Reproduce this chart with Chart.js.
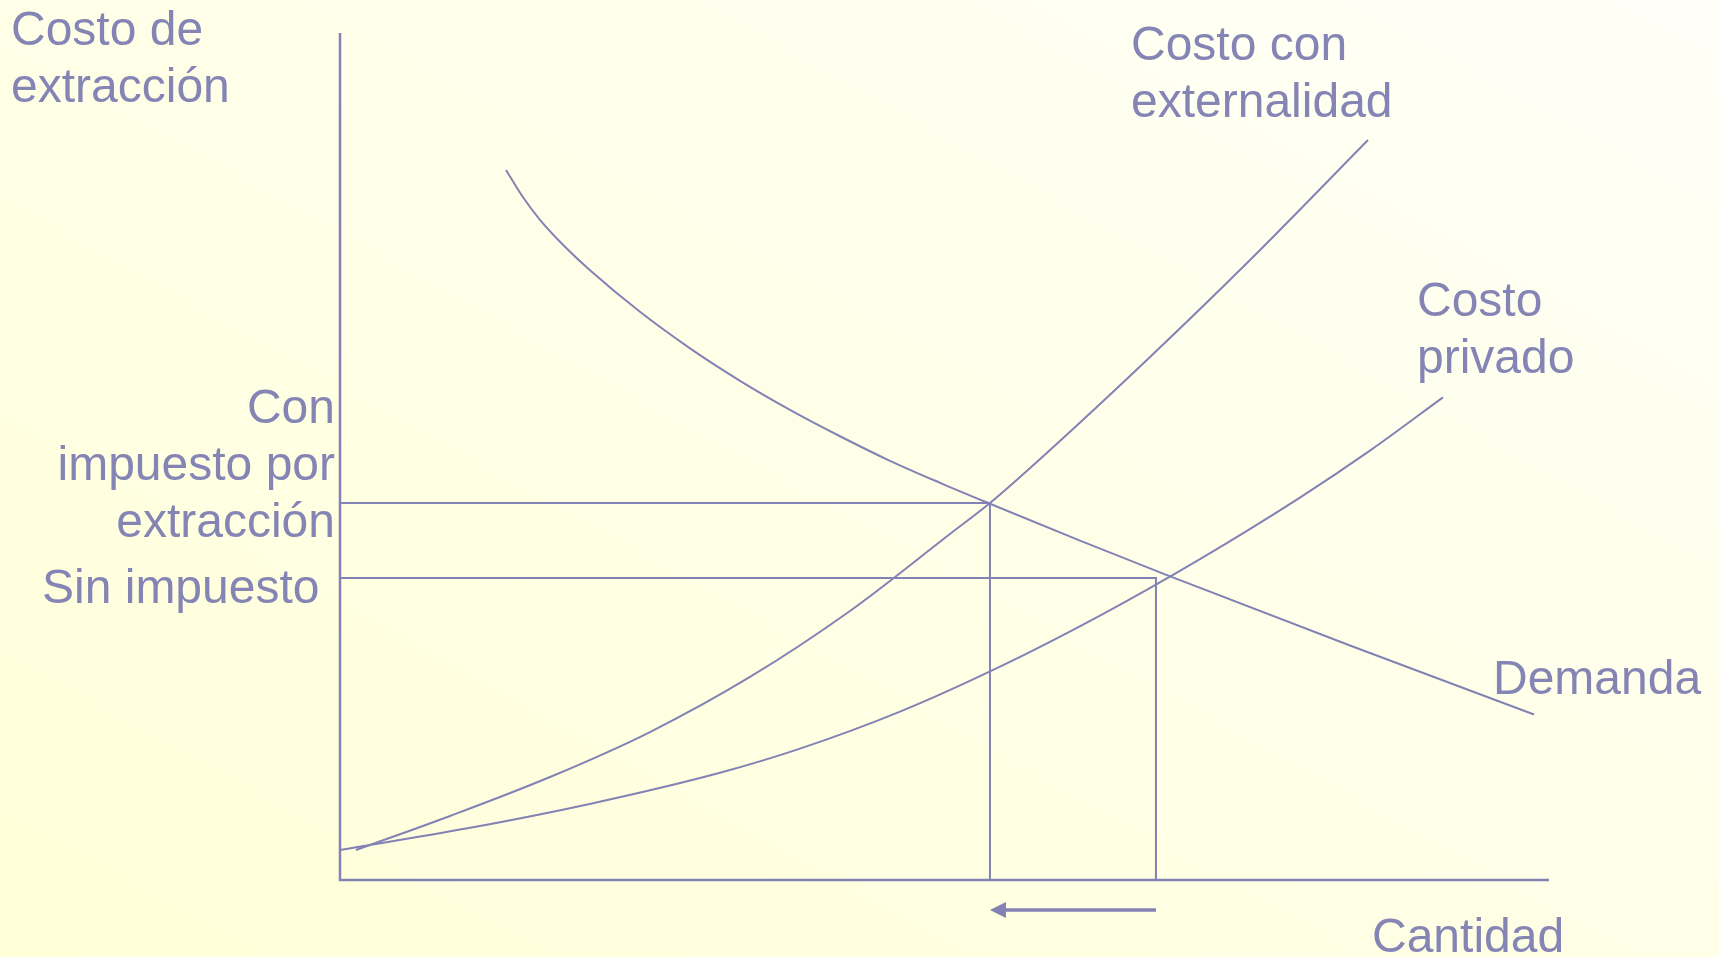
<!DOCTYPE html>
<html>
<head>
<meta charset="utf-8">
<script src="https://cdn.jsdelivr.net/npm/chart.js@4.4.1/dist/chart.umd.min.js"></script>
<style>
  html, body { margin: 0; padding: 0; }
  body {
    width: 1719px; height: 957px; overflow: hidden;
    background: linear-gradient(to top right, #FFFFD8 0%, #FFFFE6 45%, #FFFFF8 100%);
  }
  #wrap { position: absolute; left: 0; top: 0; width: 1719px; height: 957px; }
</style>
</head>
<body>
<div id="wrap"><canvas id="c" width="1719" height="957"></canvas></div>
<script>
// ---- Data (quantity on x, extraction cost on y, 0..100 units) ----
const demandQty  = [13.73, 15.14, 16.54, 18.61, 20.68, 24.81, 28.95, 33.09, 37.22, 41.36, 45.49, 49.63, 53.76, 61.21, 68.24, 83.54, 98.76];
const demandCost = [83.83, 80.61, 77.95, 74.76, 71.98, 67.08, 62.77, 58.94, 55.51, 52.39, 49.49, 46.89, 44.42, 40.06, 36.09, 27.69, 19.54];

const extQty  = [1.32, 9.10, 17.37, 25.64, 33.91, 42.18, 50.45, 53.76, 58.73, 67.00, 75.27, 85.03];
const extCost = [3.54, 7.56, 12.16, 17.47, 23.97, 31.76, 40.85, 44.51, 50.77, 61.75, 73.20, 87.37];

const privQty  = [0, 10.42, 20.84, 31.35, 38.05, 46.32, 54.59, 62.86, 71.13, 79.40, 85.19, 91.23];
const privCost = [3.54, 6.07, 9.04, 12.63, 15.51, 19.88, 25.19, 31.22, 37.89, 45.15, 50.69, 56.98];

const priceWithTax = 44.51, qtyWithTax = 53.76;
const priceNoTax   = 35.66, qtyNoTax   = 67.49;
const arrowLevel   = -3.54;

const axisMax = 100;

// ---- helpers ----
const zip = (xs, ys) => xs.map((x, i) => ({ x, y: ys[i] }));
const COLOR = '#8282B4';
const TEXT_COLOR = '#8585B5';

const base = { borderColor: COLOR, borderWidth: 2, pointRadius: 0, fill: false, clip: false };

const labels = [
  { lines: ['Costo de', 'extracción'], x: 11, y: 45, align: 'left' },
  { lines: ['Costo con', 'externalidad'], x: 1131, y: 60, align: 'left' },
  { lines: ['Costo', 'privado'], x: 1417, y: 316, align: 'left' },
  { lines: ['Con', 'impuesto por', 'extracción'], x: 335, y: 423, align: 'right' },
  { lines: ['Sin impuesto'], x: 42, y: 603, align: 'left' },
  { lines: ['Demanda'], x: 1493, y: 694, align: 'left' },
  { lines: ['Cantidad'], x: 1372, y: 952, align: 'left' }
];

const overlay = {
  id: 'overlay',
  afterDatasetsDraw(chart) {
    const { ctx, scales: { x, y } } = chart;
    // arrowhead at the left end of the shift arrow
    const tipX = x.getPixelForValue(qtyWithTax);
    const ay = y.getPixelForValue(arrowLevel);
    ctx.save();
    ctx.fillStyle = COLOR;
    ctx.beginPath();
    ctx.moveTo(tipX, ay);
    ctx.lineTo(tipX + 16, ay - 8);
    ctx.lineTo(tipX + 16, ay + 8);
    ctx.closePath();
    ctx.fill();
    // text labels
    ctx.fillStyle = TEXT_COLOR;
    ctx.font = '48px "Liberation Sans", Arial, sans-serif';
    ctx.textBaseline = 'alphabetic';
    labels.forEach(l => {
      ctx.textAlign = l.align;
      l.lines.forEach((t, i) => ctx.fillText(t, l.x, l.y + i * 57));
    });
    ctx.restore();
  }
};

new Chart(document.getElementById('c'), {
  type: 'line',
  data: {
    datasets: [
      { ...base, borderWidth: 2.5, data: [{ x: 0, y: axisMax }, { x: 0, y: 0 }, { x: axisMax, y: 0 }], tension: 0 },
      { ...base, data: [{ x: 0, y: priceWithTax }, { x: qtyWithTax, y: priceWithTax }, { x: qtyWithTax, y: 0 }], tension: 0 },
      { ...base, data: [{ x: 0, y: priceNoTax }, { x: qtyNoTax, y: priceNoTax }, { x: qtyNoTax, y: 0 }], tension: 0 },
      { ...base, borderWidth: 3.5, data: [{ x: qtyNoTax, y: arrowLevel }, { x: qtyWithTax + 1.2, y: arrowLevel }], tension: 0 },
      { ...base, data: zip(demandQty, demandCost), cubicInterpolationMode: 'monotone' },
      { ...base, data: zip(extQty, extCost), cubicInterpolationMode: 'monotone' },
      { ...base, data: zip(privQty, privCost), cubicInterpolationMode: 'monotone' }
    ]
  },
  options: {
    responsive: false,
    animation: false,
    layout: { padding: { left: 340, top: 33, right: 170, bottom: 77 } },
    plugins: { legend: { display: false }, tooltip: { enabled: false } },
    scales: {
      x: { type: 'linear', min: 0, max: axisMax, display: false },
      y: { type: 'linear', min: 0, max: axisMax, display: false }
    }
  },
  plugins: [overlay]
});
</script>
</body>
</html>
